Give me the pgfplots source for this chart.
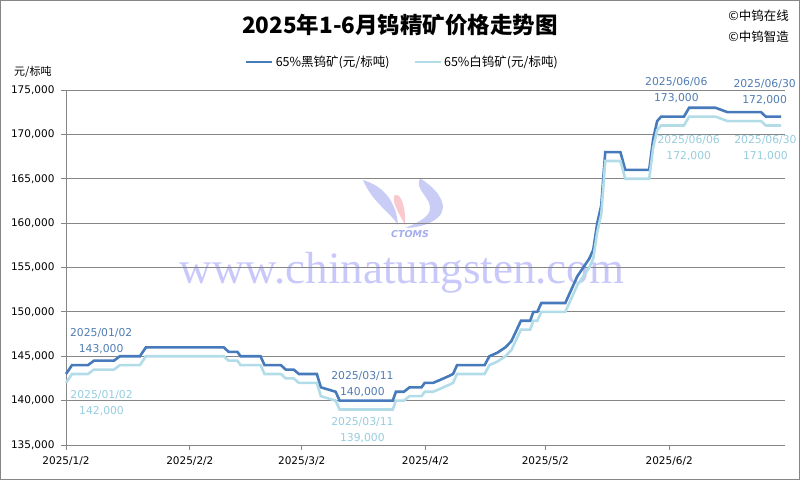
\documentclass[border=0pt]{standalone}
\usepackage{pgfplots}
\usepackage{pgfplotstable}
\pgfplotsset{compat=1.18}
\usepackage{fontspec}
\setmainfont{DejaVu Sans}
\newfontfamily\cjk{Noto Sans CJK SC}
\newfontfamily\wm{Liberation Serif}
\definecolor{dark}{RGB}{70,122,186}
\definecolor{light}{RGB}{178,220,232}
\definecolor{darktxt}{RGB}{79,124,180}
\definecolor{lighttxt}{RGB}{150,205,222}
\definecolor{gridc}{RGB}{134,134,134}
\definecolor{wmc}{RGB}{200,200,250}
\definecolor{logob}{RGB}{165,172,238}
\definecolor{logop}{RGB}{245,165,172}

\pgfplotstableread{
d v
0 143000
1.5 144000
5.5 144000
7 144500
12 144500
13.5 145000
18.5 145000
20 146000
39.5 146000
40.7 145500
42.9 145500
43.7 145000
48.7 145000
49.7 144000
53.8 144000
55 143500
57 143500
58.3 143000
62.8 143000
63.8 141500
67.5 141000
68.5 140000
81.8 140000
82.6 141000
84.6 141000
86 141500
89 141500
89.8 142000
91.9 142000
94 142400
96 142800
96.9 143000
97.9 144000
104.8 144000
106 145000
108 145400
110 146000
111.5 146700
113.9 149000
116.2 149000
117 150000
118 150000
119 151000
125 151000
128 154000
131 156000
132 157000
133 160000
134 162000
135 168000
138.8 168000
140 166000
146 166000
147 169500
148 171500
149 172000
154.7 172000
156 173000
162.6 173000
165.6 172500
174 172500
175.2 172000
179 172000
}\blackdata

\pgfplotstableread{
d v
0 142000
1.5 143000
5.5 143000
7 143500
12 143500
13.5 144000
18.5 144000
20 145000
39.5 145000
40.7 144500
42.9 144500
43.7 144000
48.7 144000
49.7 143000
53.8 143000
55 142500
57 142500
58.3 142000
62.8 142000
63.8 140500
67.5 140000
68.5 139000
81.8 139000
82.6 140000
84.6 140000
86 140500
89 140500
89.8 141000
91.9 141000
94 141400
96 141800
96.9 142000
97.9 143000
104.8 143000
106 144000
108 144400
110 145000
111.5 145700
113.9 148000
116.2 148000
117 149000
118 149000
119 150000
125 150000
128 153000
131 155000
132 156000
133 159000
134 161000
135 167000
138.8 167000
140 165000
146 165000
147 168500
148 170500
149 171000
154.7 171000
156 172000
162.6 172000
165.6 171500
174 171500
175.2 171000
179 171000
}\whitedata

\begin{document}
\begin{tikzpicture}
% frame
\draw[gridc, line width=1bp] (0.5bp,0.5bp) rectangle (799.5bp,479.5bp);
% watermark
\node[wmc, font=\wm\fontsize{45bp}{45bp}\selectfont] at (402bp,207bp) {www.chinatungsten.com};
\fill[logob, opacity=0.6] (363bp,300bp) .. controls (380bp,295bp) and (396bp,282bp) .. (398bp,255bp)
   .. controls (390bp,268bp) and (372bp,278bp) .. cycle;
\fill[logop, opacity=0.6] (395bp,285bp) .. controls (402bp,287bp) and (406bp,270bp) .. (405bp,255bp)
   .. controls (400bp,265bp) and (390bp,280bp) .. cycle;
\fill[logob, opacity=0.6] (420bp,302bp) .. controls (414bp,290bp) and (432bp,282bp) .. (430bp,270bp)
   .. controls (428bp,262bp) and (415bp,256bp) .. (405bp,252bp)
   .. controls (425bp,252bp) and (448bp,262bp) .. (442bp,278bp)
   .. controls (438bp,290bp) and (428bp,296bp) .. cycle;
\node[logob, font=\bfseries\itshape\fontsize{9.5bp}{10bp}\selectfont] at (410bp,246bp) {CTOMS};
% title and texts
\node[font=\cjk\bfseries\fontsize{22.5bp}{25bp}\selectfont] at (400bp,455bp) {2025年1-6月钨精矿价格走势图};
\node[anchor=east, font=\cjk\fontsize{12.5bp}{14bp}\selectfont, inner sep=0pt] at (789bp,464bp) {©中钨在线};
\node[anchor=east, font=\cjk\fontsize{12.5bp}{14bp}\selectfont, inner sep=0pt] at (789bp,443bp) {©中钨智造};
\node[anchor=west, font=\cjk\fontsize{11bp}{13bp}\selectfont, inner sep=0pt] at (14bp,408bp) {元/标吨};
\begin{axis}[
  at={(66bp,35bp)}, anchor=south west, scale only axis,
  width=719bp, height=355bp,
  xmin=0, xmax=180, ymin=135000, ymax=175000,
  ytick={135000,140000,145000,150000,155000,160000,165000,170000,175000},
  yticklabels={{135,000},{140,000},{145,000},{150,000},{155,000},{160,000},{165,000},{170,000},{175,000}},
  xtick={0,31,59,90,120,151},
  xticklabels={2025/1/2,2025/2/2,2025/3/2,2025/4/2,2025/5/2,2025/6/2},
  scaled y ticks=false,
  axis lines*=left,
  axis line style={gridc, line width=1bp, -},
  ymajorgrids, grid style={gridc, line width=0.9bp},
  tick align=outside, major tick length=5bp,
  tick style={gridc, line width=0.9bp},
  tick label style={font=\fontsize{10.5bp}{12bp}\selectfont},
  yticklabel style={xshift=-3bp},
  xticklabel style={yshift=-3bp},
  clip=false,
  legend style={at={(0.468,1.079)}, anchor=center, draw=none, fill=none,
    legend columns=2, font=\cjk\fontsize{12.5bp}{14bp}\selectfont,
    /tikz/every even column/.append style={column sep=22bp}},
  legend image code/.code={\draw[#1] (0bp,0bp) -- (26bp,0bp);},
]
\addplot[dark, line width=2.6bp] table[x=d, y=v]{\blackdata};
\addlegendentry{65\%黑钨矿(元/标吨)}
\addplot[light, line width=2.6bp] table[x=d, y=v]{\whitedata};
\addlegendentry{65\%白钨矿(元/标吨)}
\node[align=center, inner sep=0pt, font=\fontsize{10.8bp}{16bp}\selectfont, darktxt] at (axis cs:8.8,146660) {2025/01/02\\143,000};
\node[align=center, inner sep=0pt, font=\fontsize{10.8bp}{16bp}\selectfont, lighttxt] at (axis cs:8.9,139730) {2025/01/02\\142,000};
\node[align=center, inner sep=0pt, font=\fontsize{10.8bp}{16bp}\selectfont, darktxt] at (axis cs:74.2,141870) {2025/03/11\\140,000};
\node[align=center, inner sep=0pt, font=\fontsize{10.8bp}{16bp}\selectfont, lighttxt] at (axis cs:74.2,136690) {2025/03/11\\139,000};
\node[align=center, inner sep=0pt, font=\fontsize{10.8bp}{16bp}\selectfont, darktxt] at (axis cs:152.8,175000) {2025/06/06\\173,000};
\node[align=center, inner sep=0pt, font=\fontsize{10.8bp}{16bp}\selectfont, lighttxt] at (axis cs:155.9,168465) {2025/06/06\\172,000};
\node[align=center, inner sep=0pt, font=\fontsize{10.8bp}{16bp}\selectfont, darktxt] at (axis cs:174.9,174775) {2025/06/30\\172,000};
\node[align=center, inner sep=0pt, font=\fontsize{10.8bp}{16bp}\selectfont, lighttxt] at (axis cs:175.1,168465) {2025/06/30\\171,000};
\end{axis}
\end{tikzpicture}
\end{document}
